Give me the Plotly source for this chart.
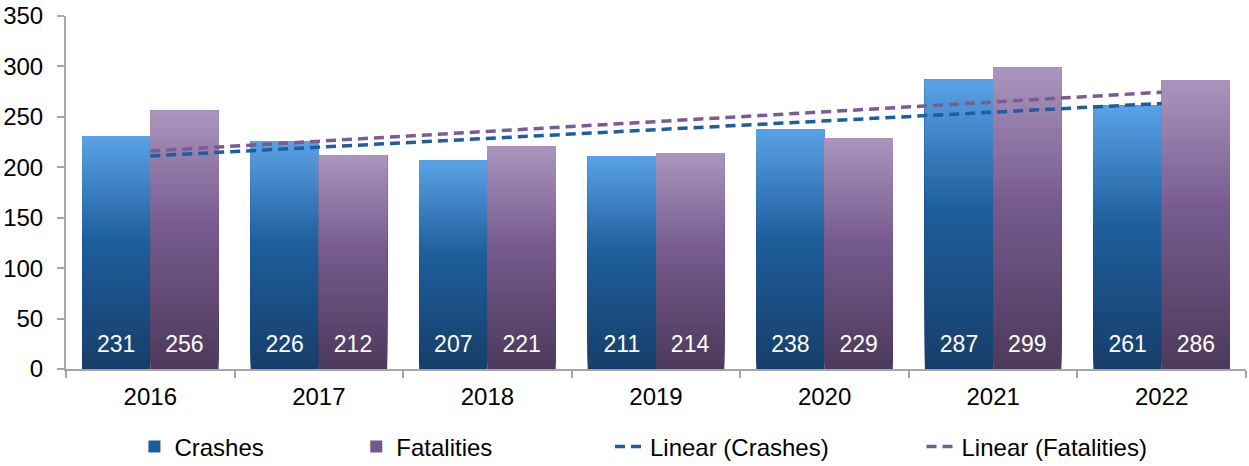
import numpy as np
import plotly.graph_objects as go

# data
years = ["2016", "2017", "2018", "2019", "2020", "2021", "2022"]
crashes = [231, 226, 207, 211, 238, 287, 261]
fatalities = [256, 212, 221, 214, 229, 299, 286]

# gradient stops (bottom, middle, top)
crash_cols = [(23, 62, 105), (30, 94, 156), (90, 162, 230)]
fatal_cols = [(77, 58, 91), (118, 90, 142), (171, 149, 191)]
N_SLICES = 60
LABEL_BAND = 50  # height (in axis units) of the band that holds the value labels


def grad_color(stops, t):
    # t = 0 at bottom, 1 at top ; middle stop at 0.55
    if t < 0.55:
        a, b, f = stops[0], stops[1], t / 0.55
    else:
        a, b, f = stops[1], stops[2], (t - 0.55) / 0.45
    c = [round(a[i] + (b[i] - a[i]) * f) for i in range(3)]
    return "rgb(%d,%d,%d)" % tuple(c)


fig = go.Figure()

# bars drawn as overlapping layers (each from its own base up to the top)
# so they get a vertical gradient without seams
for name, vals, stops, grp, leg in [
    ("Crashes", crashes, crash_cols, "c", "legend"),
    ("Fatalities", fatalities, fatal_cols, "f", "legend2"),
]:
    v = np.array(vals, dtype=float)
    for k in range(N_SLICES):
        t = (k + 0.5) / N_SLICES
        base = v * k / N_SLICES
        fig.add_trace(go.Bar(
            x=years,
            y=v - base,
            base=base,
            offsetgroup=grp,
            marker=dict(color=grad_color(stops, t), line=dict(width=0)),
            name=name,
            legend=leg,
            showlegend=(k == N_SLICES // 2),
            hoverinfo="skip",
        ))
    # labels at the foot of each bar
    fig.add_trace(go.Bar(
        x=years,
        y=[LABEL_BAND] * len(years),
        base=0,
        offsetgroup=grp,
        marker=dict(color="rgba(0,0,0,0)", line=dict(width=0)),
        text=[str(s) for s in vals],
        textposition="inside",
        insidetextanchor="middle",
        textangle=0,
        insidetextfont=dict(color="white", size=23, family="Liberation Sans, Arial"),
        showlegend=False,
        hoverinfo="skip",
    ))

# linear trend lines (least squares over the category index)
xi = np.arange(len(years))
for name, vals, col, leg in [
    ("Linear (Crashes)", crashes, "#1f5e9c", "legend3"),
    ("Linear (Fatalities)", fatalities, "#7a5b92", "legend4"),
]:
    m, b = np.polyfit(xi, vals, 1)
    fig.add_trace(go.Scatter(
        x=years,
        y=m * xi + b,
        mode="lines",
        line=dict(color=col, width=3.5, dash="10px,6px"),
        name=name,
        legend=leg,
        hoverinfo="skip",
    ))

# legends sit in the container so they don't push the bottom margin
leg_style = dict(
    orientation="h", xanchor="left",
    yref="container", y=0.041, yanchor="middle",
    font=dict(size=24), bgcolor="rgba(0,0,0,0)",
)
fig.update_layout(
    width=1249,
    height=466,
    margin=dict(l=66, r=3, t=16, b=97),
    plot_bgcolor="white",
    paper_bgcolor="white",
    font=dict(family="Liberation Sans, Arial", size=24, color="#000000"),
    barmode="group",
    bargap=0.19,
    bargroupgap=0,
    legend=dict(x=0.058, **leg_style),
    legend2=dict(x=0.246, **leg_style),
    legend3=dict(x=0.461, **leg_style),
    legend4=dict(x=0.725, **leg_style),
)
fig.update_xaxes(
    range=[-0.5, 6.5], automargin=False,
    showline=True, linecolor="#a6a6a6", linewidth=2,
    ticks="outside", tickson="boundaries", ticklen=7, tickcolor="#a6a6a6", tickwidth=2,
    showgrid=False,
    ticklabelstandoff=5,
)
fig.update_yaxes(
    range=[0, 350], dtick=50, automargin=False,
    showline=True, linecolor="#a6a6a6", linewidth=2,
    ticks="outside", ticklen=7, tickcolor="#a6a6a6", tickwidth=2,
    showgrid=False, zeroline=False,
    ticklabelstandoff=9,
)

# drop the default 8px body margin so the figure fills the window
fig.write_html(
    "out.html",
    config={"displayModeBar": False},
    post_script="document.body.style.margin='0';",
)
